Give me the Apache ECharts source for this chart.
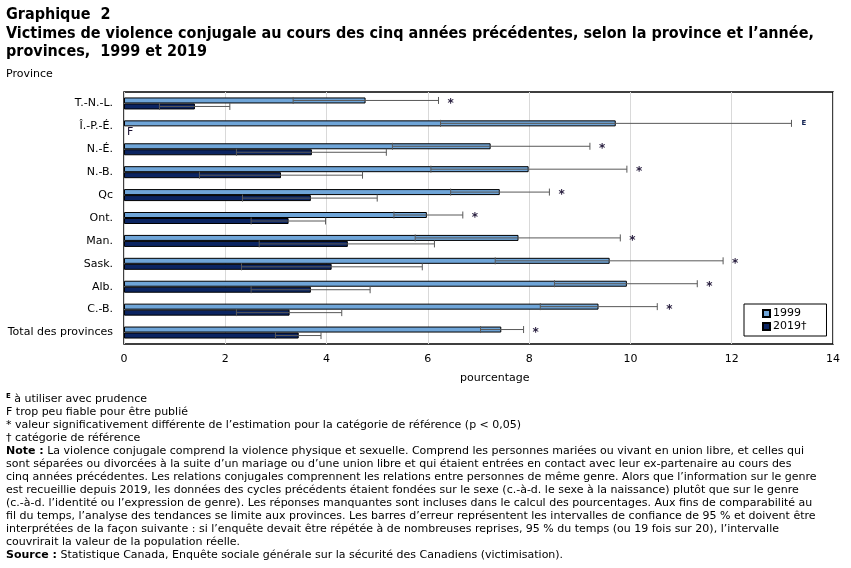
<!DOCTYPE html>
<html>
<head>
<meta charset="utf-8">
<script src="https://cdn.jsdelivr.net/npm/echarts@6/dist/echarts.min.js"></script>
<style>
  html, body { margin: 0; padding: 0; background: #fff; }
  #chart { width: 851px; height: 568px; }
</style>
</head>
<body>
<div id="chart"></div>
<script>
// données (pourcentage)
const categories = ['T.-N.-L.', 'Î.-P.-É.', 'N.-É.', 'N.-B.', 'Qc', 'Ont.', 'Man.', 'Sask.', 'Alb.', 'C.-B.', 'Total des provinces'];
const values1999 = [4.77, 9.71, 7.24, 7.99, 7.42, 5.98, 7.79, 9.59, 9.93, 9.37, 7.45];
const low1999 = [3.34, 6.25, 5.30, 6.06, 6.45, 5.33, 5.75, 7.33, 8.50, 8.22, 7.04];
const high1999 = [6.21, 13.18, 9.20, 9.93, 8.40, 6.69, 9.80, 11.83, 11.32, 10.53, 7.89];
const values2019 = [1.40, null, 3.71, 3.10, 3.69, 3.25, 4.42, 4.10, 3.69, 3.27, 3.45];
const low2019 = [0.70, null, 2.22, 1.49, 2.34, 2.51, 2.67, 2.32, 2.51, 2.22, 2.99];
const high2019 = [2.09, null, 5.18, 4.71, 5.00, 3.98, 6.13, 5.89, 4.86, 4.30, 3.89];
const flags1999 = ['*', 'E', '*', '*', '*', '*', '*', '*', '*', '*', '*'];
const flags2019 = ['', 'F', '', '', '', '', '', '', '', '', ''];
const xTicks = [0, 2, 4, 6, 8, 10, 12, 14];

const notes = [
  '{sup|E} à utiliser avec prudence',
  'F trop peu fiable pour être publié',
  '* valeur significativement différente de l’estimation pour la catégorie de référence (p < 0,05)',
  '† catégorie de référence',
  '{b|Note :} La violence conjugale comprend la violence physique et sexuelle. Comprend les personnes mariées ou vivant en union libre, et celles qui',
  'sont séparées ou divorcées à la suite d’un mariage ou d’une union libre et qui étaient entrées en contact avec leur ex-partenaire au cours des',
  'cinq années précédentes. Les relations conjugales comprennent les relations entre personnes de même genre. Alors que l’information sur le genre',
  'est recueillie depuis 2019, les données des cycles précédents étaient fondées sur le sexe (c.-à-d. le sexe à la naissance) plutôt que sur le genre',
  '(c.-à-d. l’identité ou l’expression de genre). Les réponses manquantes sont incluses dans le calcul des pourcentages. Aux fins de comparabilité au',
  'fil du temps, l’analyse des tendances se limite aux provinces. Les barres d’erreur représentent les intervalles de confiance de 95 % et doivent être',
  'interprétées de la façon suivante : si l’enquête devait être répétée à de nombreuses reprises, 95 % du temps (ou 19 fois sur 20), l’intervalle',
  'couvrirait la valeur de la population réelle.',
  '{b|Source :} Statistique Canada, Enquête sociale générale sur la sécurité des Canadiens (victimisation).'
];

const FONT = 'Verdana, "DejaVu Sans", sans-serif';
const TITLE_FONT = '"DejaVu Sans Condensed", "DejaVu Sans", sans-serif';
const NOTE_FONT = '"DejaVu Sans", sans-serif';
const BAR_W = 6;

const err1999 = categories.map((c, i) => [i, low1999[i], high1999[i]]);
const err2019 = [];
categories.forEach((c, i) => { if (low2019[i] != null) err2019.push([i, low2019[i], high2019[i]]); });

const flagData = [];
const flagText = [];
categories.forEach((c, i) => {
  if (flags1999[i]) { flagData.push([high1999[i], i, -1]); flagText.push(flags1999[i]); }
  if (flags2019[i]) { flagData.push([high2019[i] == null ? 0 : high2019[i], i, 1]); flagText.push(flags2019[i]); }
});

function errRender(offset) {
  return function (params, api) {
    const idx = api.value(0);
    const p0 = api.coord([api.value(1), idx]);
    const p1 = api.coord([api.value(2), idx]);
    const y = p0[1] + offset;
    const st = { stroke: '#595959', lineWidth: 1 };
    return {
      type: 'group',
      children: [
        { type: 'line', shape: { x1: p0[0], y1: y, x2: p1[0], y2: y }, style: st },
        { type: 'line', shape: { x1: p0[0], y1: y - 3.5, x2: p0[0], y2: y + 3.5 }, style: st },
        { type: 'line', shape: { x1: p1[0], y1: y - 3.5, x2: p1[0], y2: y + 3.5 }, style: st }
      ]
    };
  };
}

const chart = echarts.init(document.getElementById('chart'));
chart.setOption({
  animation: false,
  textStyle: { fontFamily: FONT },
  grid: { left: 124, right: 18, top: 92, bottom: 224, show: true, borderColor: '#000', borderWidth: 1.5, containLabel: false },
  legend: {
    left: 744, top: 304, orient: 'vertical',
    padding: [4, 20, 4, 18], itemGap: 2, itemWidth: 7, itemHeight: 7,
    borderColor: '#000', borderWidth: 1, icon: 'rect',
    textStyle: { fontFamily: FONT, fontSize: 11, color: '#000', padding: [0, 0, 0, -2] },
    data: ['1999', '2019†']
  },
  xAxis: {
    type: 'value', min: 0, max: 14, interval: 2,
    axisLine: { show: false }, axisTick: { show: false },
    splitLine: { show: true, lineStyle: { color: '#d9d9d9', width: 1 } },
    axisLabel: { margin: 10, fontSize: 11, color: '#000', fontFamily: FONT,
      formatter: v => xTicks.indexOf(v) >= 0 ? String(v) : '' }
  },
  yAxis: {
    type: 'category', data: categories, inverse: true,
    axisLine: { show: false }, axisTick: { show: false },
    axisLabel: { margin: 11, fontSize: 11, color: '#000', fontFamily: FONT }
  },
  series: [
    { name: '1999', type: 'bar', data: values1999, barWidth: BAR_W, barGap: '0%',
      itemStyle: { color: '#6fa5d8', borderColor: '#000', borderWidth: 1 } },
    { name: '2019†', type: 'bar', data: values2019, barWidth: BAR_W, barGap: '0%',
      itemStyle: { color: '#0b2461', borderColor: '#000', borderWidth: 1 } },
    { type: 'custom', data: err1999, renderItem: errRender(-BAR_W / 2), encode: { x: [1, 2], y: 0 }, z: 5, silent: true },
    { type: 'custom', data: err2019, renderItem: errRender(BAR_W / 2), encode: { x: [1, 2], y: 0 }, z: 5, silent: true },
    { type: 'custom', data: flagData, encode: { x: 0, y: 1 }, z: 6, silent: true,
      renderItem: function (params, api) {
        const p = api.coord([api.value(0), api.value(1)]);
        const t = flagText[params.dataIndex];
        const side = api.value(2);
        const y = p[1] + side * BAR_W / 2;
        if (t === 'F') {
          return { type: 'text', style: { text: 'F', x: p[0] + 3, y: y + 3, verticalAlign: 'middle', font: '11px ' + FONT, fill: '#1a1030' } };
        }
        if (t === 'E') {
          return { type: 'text', style: { text: 'E', x: p[0] + 10, y: y, verticalAlign: 'middle', font: 'bold 7px ' + FONT, fill: '#102050' } };
        }
        return { type: 'text', style: { text: '*', x: p[0] + 9, y: y + 3, verticalAlign: 'middle', font: 'bold 12px ' + FONT, fill: '#2a2040' } };
      }
    }
  ],
  graphic: [
    { type: 'text', left: 6, top: 6, style: {
      text: 'Graphique  2\nVictimes de violence conjugale au cours des cinq années précédentes, selon la province et l’année,\nprovinces,  1999 et 2019',
      font: 'bold 16px ' + TITLE_FONT, fill: '#000', lineHeight: 18.5 } },
    { type: 'text', left: 6, top: 69, style: { text: 'Province', font: '11px ' + NOTE_FONT, fill: '#000' } },
    { type: 'text', left: 460, top: 373, style: { text: 'pourcentage', font: '11px ' + NOTE_FONT, fill: '#000' } },
    { type: 'text', left: 6, top: 393, style: {
      text: notes.join('\n'), font: '11px ' + NOTE_FONT, fill: '#000', lineHeight: 12.95,
      rich: {
        b: { fontWeight: 'bold', fontFamily: NOTE_FONT, fontSize: 11, lineHeight: 12.95 },
        sup: { fontSize: 7, fontWeight: 'bold', fontFamily: NOTE_FONT, lineHeight: 12.95, verticalAlign: 'top' }
      } } }
  ]
});
</script>
</body>
</html>
